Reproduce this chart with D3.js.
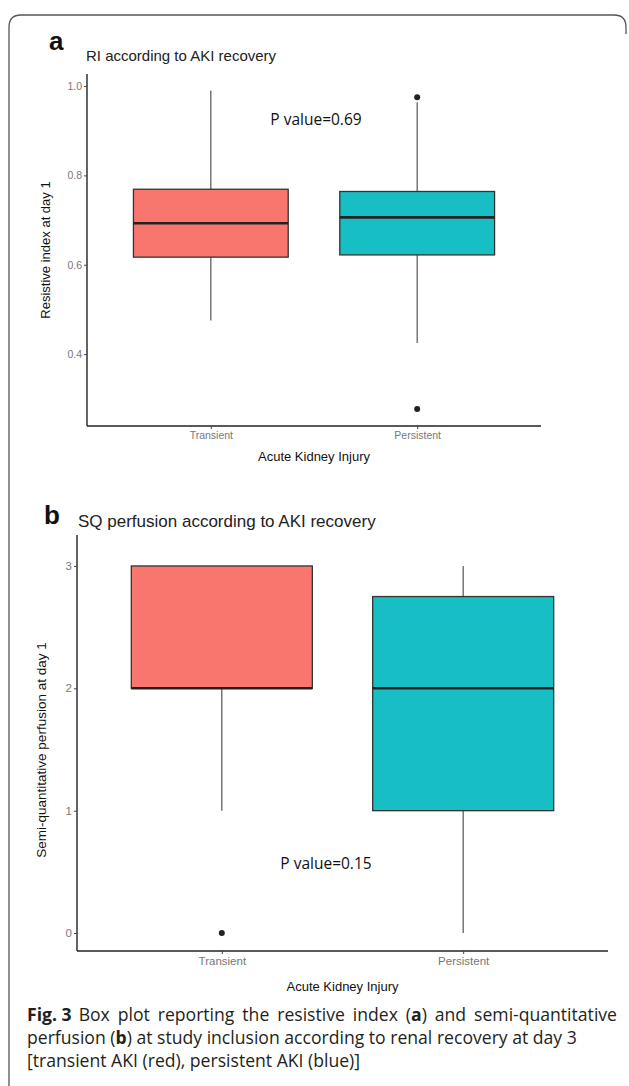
<!DOCTYPE html>
<html>
<head>
<meta charset="utf-8">
<script src="https://cdn.jsdelivr.net/npm/d3@7"></script>
<style>
  body { margin: 0; background: #fff; }
  svg { display: block; }
  .tick text { fill: #777; font-family: "Liberation Sans", Arial, sans-serif; }
</style>
</head>
<body>
<div id="chart"></div>
<script>
	// groups on the x axis (same for both panels)
	var groups = ["Transient", "Persistent"];
	var groupColors = ["#F8766D", "#17BEC4"];

	// panel a : resistive index at day 1
	var riLow = [0.475, 0.425];
	var riQ1 = [0.617, 0.622];
	var riMedian = [0.693, 0.706];
	var riQ3 = [0.769, 0.764];
	var riHigh = [0.99, 0.964];
	var riOutliers = [[], [0.975, 0.277]];
	var riTicks = [0.4, 0.6, 0.8, 1.0];

	// panel b : semi-quantitative perfusion at day 1
	var sqLow = [1, 0];
	var sqQ1 = [2, 1];
	var sqMedian = [2, 2];
	var sqQ3 = [3, 2.75];
	var sqHigh = [3, 3];
	var sqOutliers = [[0], []];
	var sqTicks = [0, 1, 2, 3];

	var W = 629, H = 1086;

	var svg = d3.select('#chart').append('svg')
		.attr('width', W)
		.attr('height', H);

	svg.append("rect").attr("width", W).attr("height", H).attr("fill", "#fff");

	// rounded frame, open at bottom and right
	svg.append("path")
		.attr("d", "M9,1086 V27 Q9,15 21,15 H614 Q626,15 626,27 V34")
		.attr("fill", "none")
		.attr("stroke", "#555")
		.attr("stroke-width", 1.3);

	function boxPanel(opt){
		var g = svg.append("g");

		var x = d3.scalePoint()
			.domain(groups)
			.range([opt.left, opt.right])
			.padding(0.6);

		var y = d3.scaleLinear()
			.domain(opt.domain)
			.range([opt.bottom, opt.top]);

		var bw = x.step() * 0.75;

		var rows = groups.map(function(d, i){
			return {
				name: d, color: groupColors[i],
				low: opt.low[i], q1: opt.q1[i], med: opt.median[i],
				q3: opt.q3[i], high: opt.high[i], out: opt.outliers[i]
			};
		});

		// whiskers
		g.selectAll(".whUp").data(rows).enter().append("line")
			.attr("x1", function(d){ return x(d.name); })
			.attr("x2", function(d){ return x(d.name); })
			.attr("y1", function(d){ return y(d.high); })
			.attr("y2", function(d){ return y(d.q3); })
			.attr("stroke", "#555").attr("stroke-width", 1.2);

		g.selectAll(".whDown").data(rows).enter().append("line")
			.attr("x1", function(d){ return x(d.name); })
			.attr("x2", function(d){ return x(d.name); })
			.attr("y1", function(d){ return y(d.q1); })
			.attr("y2", function(d){ return y(d.low); })
			.attr("stroke", "#555").attr("stroke-width", 1.2);

		// boxes
		g.selectAll(".box").data(rows).enter().append("rect")
			.attr("x", function(d){ return x(d.name) - bw / 2; })
			.attr("width", bw)
			.attr("y", function(d){ return y(d.q3); })
			.attr("height", function(d){ return y(d.q1) - y(d.q3); })
			.attr("fill", function(d){ return d.color; })
			.attr("stroke", "#333")
			.attr("stroke-width", 1.3);

		// medians
		g.selectAll(".med").data(rows).enter().append("line")
			.attr("x1", function(d){ return x(d.name) - bw / 2; })
			.attr("x2", function(d){ return x(d.name) + bw / 2; })
			.attr("y1", function(d){ return y(d.med); })
			.attr("y2", function(d){ return y(d.med); })
			.attr("stroke", "#222")
			.attr("stroke-width", 2.6);

		// outliers
		var pts = [];
		rows.forEach(function(d){ d.out.forEach(function(v){ pts.push({name: d.name, v: v}); }); });
		g.selectAll("circle").data(pts).enter().append("circle")
			.attr("cx", function(d){ return x(d.name); })
			.attr("cy", function(d){ return y(d.v); })
			.attr("r", 3)
			.attr("fill", "#222");

		// axes
		var yAxis = g.append("g")
			.attr("transform", "translate(" + opt.left + ",0)")
			.call(d3.axisLeft(y).tickValues(opt.ticks).tickSize(3).tickPadding(2).tickFormat(opt.fmt));
		var xAxis = g.append("g")
			.attr("transform", "translate(0," + opt.bottom + ")")
			.call(d3.axisBottom(x).tickSize(3).tickPadding(3));

		[yAxis, xAxis].forEach(function(a){
			a.select(".domain").attr("stroke", "#222").attr("stroke-width", 1.4);
			a.selectAll(".tick line").attr("stroke", "#444");
			a.selectAll(".tick text").style("font-size", opt.tickSize + "px");
		});
		yAxis.select(".domain").attr("d", "M0," + opt.bottom + "V" + opt.top);
		xAxis.select(".domain").attr("d", "M" + opt.left + ",0H" + opt.right);

		// axis titles
		g.append("text")
			.attr("x", (opt.left + opt.right) / 2)
			.attr("y", opt.xTitleY)
			.attr("text-anchor", "middle")
			.style("font-family", "Liberation Sans, Arial, sans-serif")
			.style("font-size", "13px")
			.attr("fill", "#111")
			.text("Acute Kidney Injury");

		g.append("text")
			.attr("transform", "translate(" + opt.yTitleX + "," + opt.yTitleY + ") rotate(-90)")
			.attr("text-anchor", "middle")
			.style("font-family", "Liberation Sans, Arial, sans-serif")
			.style("font-size", opt.yTitleSize + "px")
			.attr("fill", "#111")
			.text(opt.yTitle);

		// panel letter + title
		g.append("text")
			.attr("x", opt.letterX).attr("y", opt.letterY)
			.style("font-family", "Liberation Sans, Arial, sans-serif")
			.style("font-size", "26px").style("font-weight", "bold")
			.attr("fill", "#111")
			.text(opt.letter);
		g.append("text")
			.attr("x", opt.titleX).attr("y", opt.titleY)
			.style("font-family", "Liberation Sans, Arial, sans-serif")
			.style("font-size", opt.titleSize + "px")
			.attr("fill", "#222")
			.text(opt.title);

		// p value
		g.append("text")
			.attr("x", opt.pX).attr("y", y(opt.pV))
			.attr("text-anchor", "middle")
			.attr("dy", "0.35em")
			.style("font-family", "Open Sans, sans-serif")
			.style("font-size", "15.5px")
			.attr("fill", "#111")
			.text(opt.pText);
	}

	boxPanel({
		left: 87, right: 541, top: 74, bottom: 426,
		domain: [0.239, 1.027],
		low: riLow, q1: riQ1, median: riMedian, q3: riQ3, high: riHigh, outliers: riOutliers,
		ticks: riTicks, fmt: d3.format(".1f"), tickSize: 10.5,
		xTitleY: 461, yTitle: "Resistive index at day 1", yTitleX: 50, yTitleY: 250, yTitleSize: 13,
		letter: "a", letterX: 49, letterY: 50,
		title: "RI according to AKI recovery", titleX: 86, titleY: 61, titleSize: 15,
		pText: "P value=0.69", pX: 316, pV: 0.925
	});

	boxPanel({
		left: 77, right: 608, top: 535, bottom: 951,
		domain: [-0.147, 3.253],
		low: sqLow, q1: sqQ1, median: sqMedian, q3: sqQ3, high: sqHigh, outliers: sqOutliers,
		ticks: sqTicks, fmt: d3.format("d"), tickSize: 11.5,
		xTitleY: 991, yTitle: "Semi-quantitative perfusion at day 1", yTitleX: 46, yTitleY: 750, yTitleSize: 13.5,
		letter: "b", letterX: 44, letterY: 524,
		title: "SQ perfusion according to AKI recovery", titleX: 78, titleY: 527, titleSize: 17,
		pText: "P value=0.15", pX: 326, pV: 0.57
	});

	// figure caption, one text per line (first line justified to the right margin)
	var capLeft = 27, capRight = 617;
	var capFont = { "font-family": "Open Sans, sans-serif", "font-size": "17.6px" };

	function capLine(yPos){
		var t = svg.append("text")
			.attr("x", capLeft).attr("y", yPos)
			.attr("fill", "#231f20");
		for (var k in capFont) t.style(k, capFont[k]);
		return t;
	}

	var line1 = capLine(1021);
	line1.append("tspan").style("font-weight", "bold").text("Fig. 3");
	var rest1 = line1.append("tspan").attr("dx", 7);
	rest1.append("tspan").text("Box plot reporting the resistive index (");
	rest1.append("tspan").style("font-weight", "bold").text("a");
	rest1.append("tspan").text(") and semi-quantitative");
	var w1 = line1.node().getComputedTextLength() + 7;
	var sp1 = (rest1.text().match(/ /g) || []).length;
	rest1.style("word-spacing", Math.max(0, (capRight - capLeft - w1) / sp1) + "px");

	var line2 = capLine(1044);
	line2.append("tspan").text("perfusion (");
	line2.append("tspan").style("font-weight", "bold").text("b");
	line2.append("tspan").text(") at study inclusion according to renal recovery at day 3");

	capLine(1067).text("[transient AKI (red), persistent AKI (blue)]");
</script>
</body>
</html>
